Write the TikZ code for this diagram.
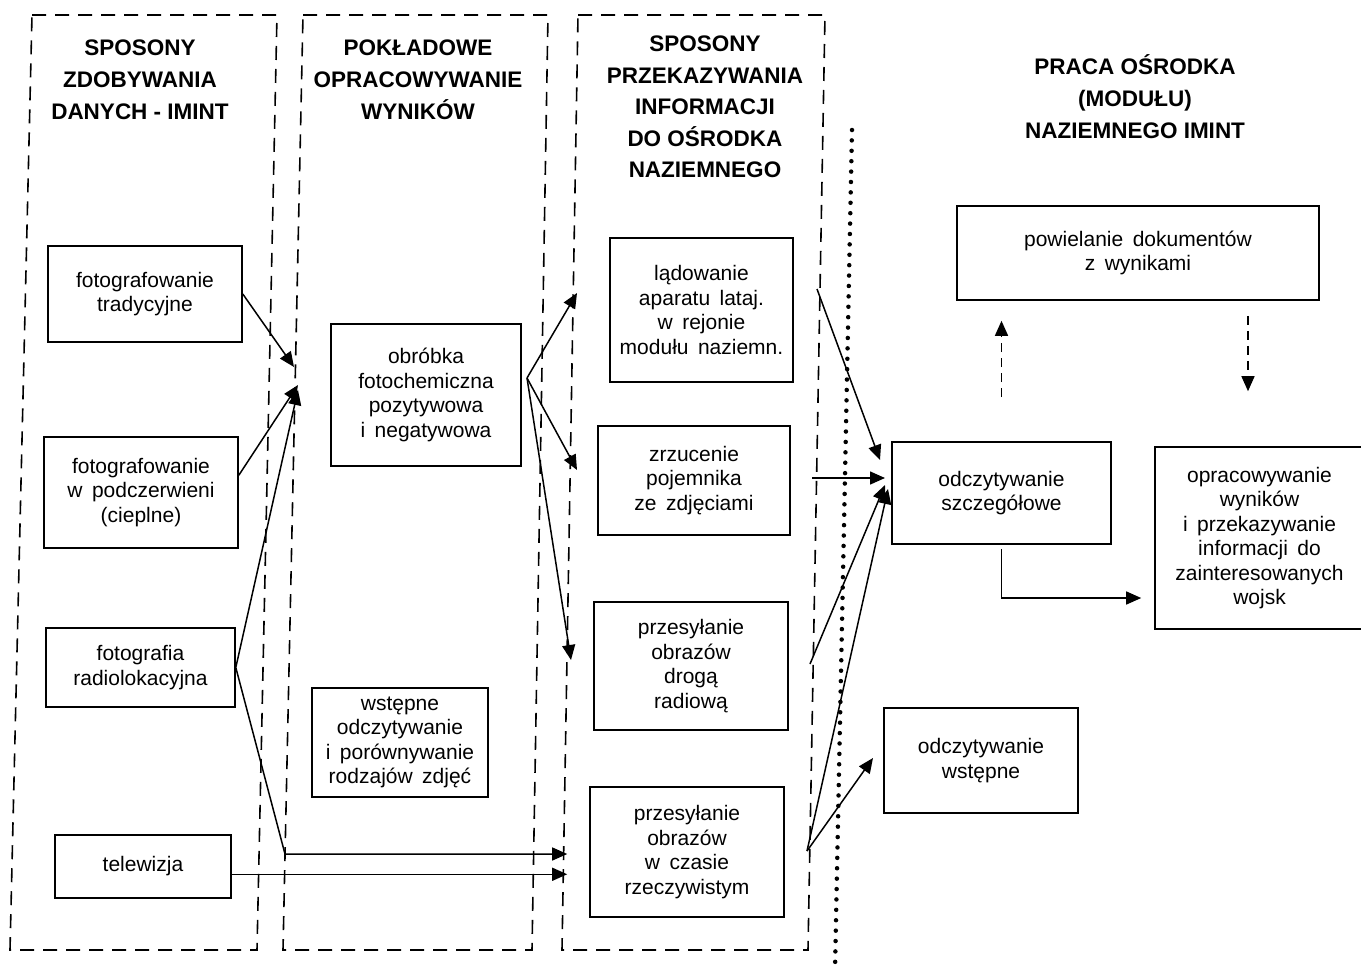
\documentclass[tikz,border=0pt]{standalone}
\usepackage{fontspec}
\setmainfont{Liberation Sans}
\usetikzlibrary{arrows.meta}
\newcommand\BoxFont{\fontsize{21}{24.5}\selectfont\spaceskip=.45em\relax}
\tikzstyle{Box}=[draw,line width=1.6pt,align=center,inner sep=0pt,font=\BoxFont]
\tikzstyle{Head}=[align=center,inner sep=0pt,font=\bfseries\fontsize{22.5}{32}\selectfont]
\tikzstyle{Column}=[line width=1.6pt,dash pattern=on 14pt off 9pt]
\tikzstyle{Edge}=[line width=1.5pt,-{Triangle[length=15pt,width=13pt]}]
\tikzstyle{DashEdge}=[Edge,dash pattern=on 9pt off 6pt]
\tikzstyle{Dots}=[line width=4.5pt,line cap=round,dash pattern=on 0pt off 10.4pt]

\begin{document}
\begin{tikzpicture}[x=1pt,y=-1pt]
        \useasboundingbox(0,0)rectangle(1361,975);
        % columns
        \draw[Column](32,15)--(277,15)--(257,950)--(10,950)--cycle;
        \draw[Column](303,15)--(548,15)--(532,950)--(283,950)--cycle;
        \draw[Column](578,15)--(825,15)--(808,950)--(562,950)--cycle;
        \draw[Dots](852,130)--(835,970);
        % headings
        \node[Head](h1)at(140,80){SPOSONY\\ZDOBYWANIA\\DANYCH - IMINT};
        \node[Head](h2)at(418,80){POKŁADOWE\\OPRACOWYWANIE\\WYNIKÓW};
        \node[Head,font=\bfseries\fontsize{22.5}{31.5}\selectfont](h3)at(705,107)
            {SPOSONY\\PRZEKAZYWANIA\\INFORMACJI\\DO OŚRODKA\\NAZIEMNEGO};
        \node[Head](h4)at(1135,97){PRACA OŚRODKA\\(MODUŁU)\\NAZIEMNEGO IMINT};
        % boxes
        \node[Box,minimum width=194pt,minimum height=96pt](trad)at(145,294)
            {fotografowanie\\tradycyjne};
        \node[Box,minimum width=194pt,minimum height=111pt](podcz)at(141,492.5)
            {fotografowanie\\w podczerwieni\\(cieplne)};
        \node[Box,minimum width=189pt,minimum height=79pt](radio)at(140.5,667.5)
            {fotografia\\radiolokacyjna};
        \node[Box,minimum width=176pt,minimum height=63pt](telew)at(143,866.5)
            {telewizja};
        \node[Box,minimum width=190pt,minimum height=142pt](obrob)at(426,395)
            {obróbka\\fotochemiczna\\pozytywowa\\i negatywowa};
        \node[Box,minimum width=176pt,minimum height=109pt](wstep)at(400,742.5)
            {wstępne\\odczytywanie\\i porównywanie\\rodzajów zdjęć};
        \node[Box,minimum width=183pt,minimum height=144pt](ladow)at(701.5,310)
            {lądowanie\\aparatu lataj.\\w rejonie\\modułu naziemn.};
        \node[Box,minimum width=192pt,minimum height=109pt](zrzuc)at(694,480.5)
            {zrzucenie\\pojemnika\\ze zdjęciami};
        \node[Box,minimum width=194pt,minimum height=128pt](radiowa)at(691,666)
            {przesyłanie\\obrazów\\drogą\\radiową};
        \node[Box,minimum width=194pt,minimum height=130pt](realt)at(687,852)
            {przesyłanie\\obrazów\\w czasie\\rzeczywistym};
        \node[Box,minimum width=362pt,minimum height=94pt](powiel)at(1138,253)
            {powielanie dokumentów\\z wynikami};
        \node[Box,minimum width=219pt,minimum height=102pt](szczeg)at(1001.5,493)
            {odczytywanie\\szczegółowe};
        \node[Box,minimum width=209pt,minimum height=182pt](oprac)at(1259.5,538)
            {opracowywanie\\wyników\\i przekazywanie\\informacji do\\zainteresowanych\\wojsk};
        \node[Box,minimum width=194pt,minimum height=105pt](odcz)at(981,760.5)
            {odczytywanie\\wstępne};
        % acquisition -> on-board processing
        \coordinate(t1)at(294,367);
        \coordinate(t2)at(298,385);
        \coordinate(t3)at(298,390);
        \coordinate(v1)at(285,854);
        \coordinate(tv)at(telew.-5.5);
        \draw[Edge](trad.east)--(t1);
        \draw[Edge](podcz.10)--(t2);
        \draw[Edge](radio.east)--(t3);
        \draw[Edge,shorten >=22pt](radio.east)--(v1)--(v1-|realt.west);
        \draw[Edge,shorten >=22pt](tv)--(tv-|realt.west);
        % processing -> transfer
        \coordinate(ov)at(527,378);
        \coordinate(o1)at(577,293);
        \coordinate(o2)at(577,470);
        \coordinate(o3)at(571,660);
        \draw[Edge](ov)--(o1);
        \draw[Edge](ov)--(o2);
        \draw[Edge](ov)--(o3);
        % transfer -> ground module
        \coordinate(l0)at(817,289);
        \coordinate(z0)at(812,478);
        \coordinate(r0)at(810,664);
        \coordinate(rv)at(807,851);
        \coordinate(s1)at(880,460);
        \coordinate(s2)at(885,478);
        \coordinate(s3)at(885,485);
        \coordinate(s4)at(888,489);
        \coordinate(w1)at(873,758);
        \draw[Edge](l0)--(s1);
        \draw[Edge](z0)--(s2);
        \draw[Edge](r0)--(s3);
        \draw[Edge](rv)--(s4);
        \draw[Edge](rv)--(w1);
        % ground module
        \coordinate(pd)at([xshift=110pt]powiel.south);
        \draw[DashEdge,shorten <=44pt,shorten >=20pt](szczeg.north)--(szczeg.north|-powiel.south);
        \draw[DashEdge,shorten <=15pt,shorten >=55pt](pd)--(pd|-oprac.north);
        \draw[Edge]([yshift=-4pt]szczeg.south)|-([xshift=-13pt,yshift=-60pt]oprac.west);
    \end{tikzpicture}
\end{document}
